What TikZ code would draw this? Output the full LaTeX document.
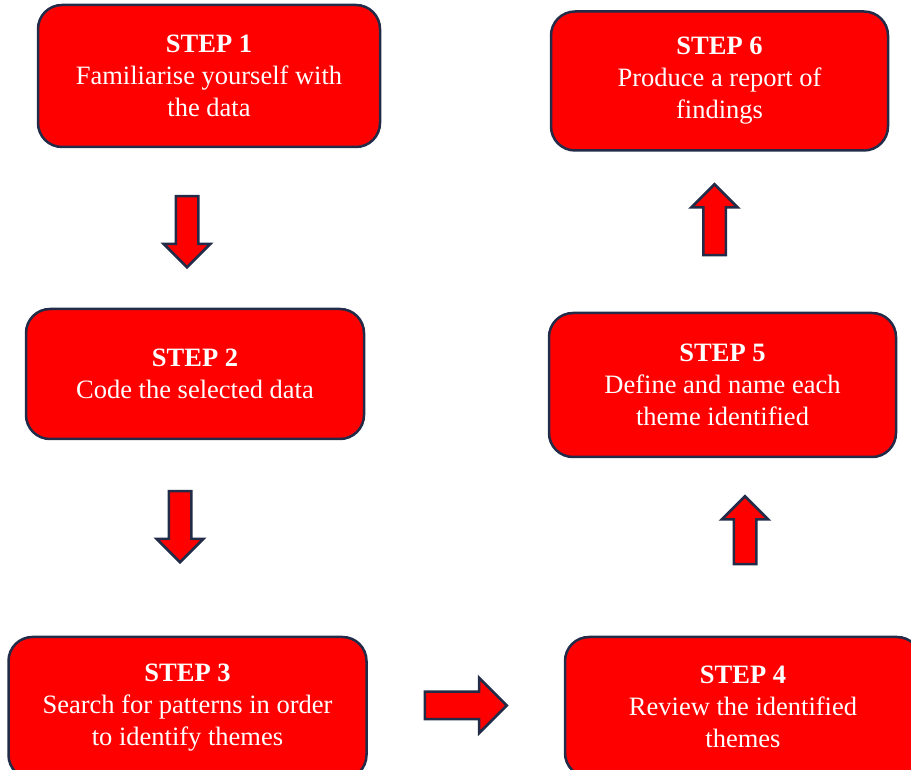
\documentclass[tikz,border=0pt]{standalone}
\usepackage{fontspec}
\setmainfont{Liberation Serif}
\usepackage{xcolor}
\usetikzlibrary{shapes.arrows, positioning}
\definecolor{stepred}{RGB}{255,0,0}
\definecolor{stepedge}{RGB}{34,44,72}

\begin{document}
\begin{tikzpicture}[
    x=1pt, y=1pt,
    stepbox/.style={draw=stepedge, line width=2.5pt, fill=stepred, rounded corners=24pt, text=white, align=center, font=\fontsize{26.5}{32}\selectfont, inner sep=0pt},
    blockarrow/.style={draw=stepedge, line width=2.5pt, fill=stepred, single arrow, single arrow head extend=12pt, inner xsep=0pt, inner ysep=10pt, minimum height=71pt, anchor=tail}
]
    \useasboundingbox (0,0) rectangle (911,769);
    \clip (0,0) rectangle (911,769);

    % Steps
    \node[stepbox, minimum width=342pt, minimum height=142pt] (step1) at (209,693) {\textbf{STEP 1}\\Familiarise yourself with\\the data};
    \node[stepbox, minimum width=338pt, minimum height=130pt] (step2) at (195,395) {\textbf{STEP 2}\\Code the selected data};
    \node[stepbox, minimum width=358pt, minimum height=142pt] (step3) at (187.5,61) {\textbf{STEP 3}\\Search for patterns in order\\to identify themes};
    \node[stepbox, minimum width=356pt, minimum height=140pt] (step4) at (743,62) {\textbf{STEP 4}\\Review the identified\\themes};
    \node[stepbox, minimum width=347pt, minimum height=144pt] (step5) at (722.5,384) {\textbf{STEP 5}\\Define and name each\\theme identified};
    \node[stepbox, minimum width=337pt, minimum height=139pt] (step6) at (719.5,688) {\textbf{STEP 6}\\Produce a report of\\findings};

    % Block arrows (placed by their tails)
    \node[blockarrow, rotate=-90] (arr12) at (187,574) {};
    \node[blockarrow, rotate=-90] (arr23) at (180,279) {};
    \node[blockarrow, minimum height=82pt, inner ysep=12.5pt, single arrow head extend=14pt] (arr34) at (423.5,63.5) {};
    \node[blockarrow, rotate=90, minimum height=68pt] (arr45) at (745,203.5) {};
    \node[blockarrow, rotate=90] (arr56) at (714.5,512.5) {};
\end{tikzpicture}
\end{document}
